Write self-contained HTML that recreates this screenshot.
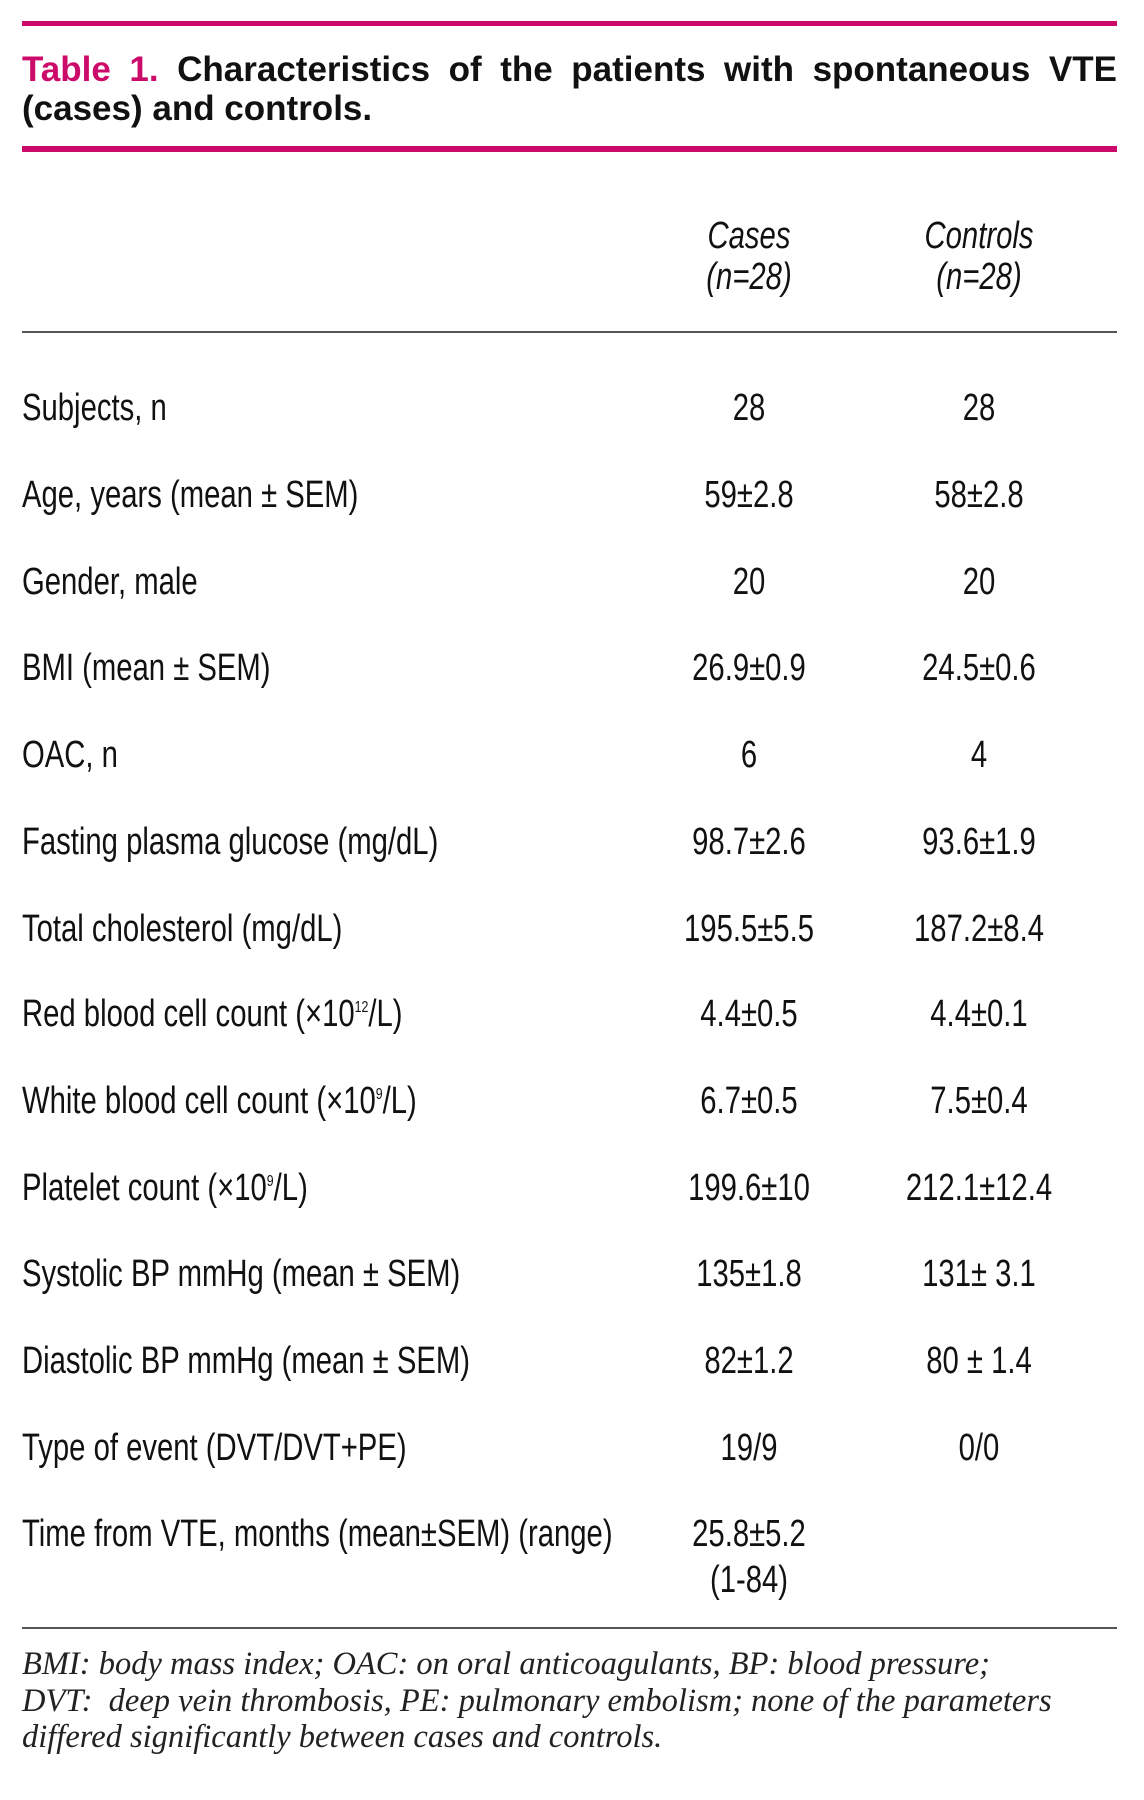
<!DOCTYPE html>
<html><head><meta charset="utf-8"><style>
html,body{margin:0;padding:0;background:#fff;}
body{width:1144px;height:1800px;position:relative;overflow:hidden;font-family:"Liberation Sans",sans-serif;color:#111;}
.bar{position:absolute;left:22px;width:1095px;background:#cc0a6a;}
.rule{position:absolute;left:22px;width:1095px;height:2px;background:#555;}
.t{position:absolute;font-size:38px;line-height:40px;white-space:nowrap;transform:scaleX(0.77);}
.l{left:22px;transform-origin:0 50%;}
.c{width:400px;text-align:center;transform-origin:50% 50%;}
.c1{left:549px;}
.c2{left:779px;}
.i{font-style:italic;}
sup{font-size:16px;vertical-align:14px;line-height:0;}
.title{position:absolute;left:22px;width:1095px;font-weight:bold;font-size:35px;line-height:39px;}
.title .line1{text-align:justify;text-align-last:justify;white-space:nowrap;}
.pk{color:#cc0a6a;}
.fn{position:absolute;left:22px;font-family:"Liberation Serif",serif;font-style:italic;font-size:32.5px;line-height:36px;white-space:nowrap;color:#222;}
</style></head><body>
<div class="bar" style="top:21px;height:5px"></div>
<div class="title" style="top:50px">
<div class="line1"><span class="pk">Table 1.</span> Characteristics of the patients with spontaneous VTE</div>
<div>(cases) and controls.</div>
</div>
<div class="bar" style="top:146px;height:6px"></div>

<div class="t c c1 i" style="top:216px">Cases</div>
<div class="t c c2 i" style="top:216px">Controls</div>
<div class="t c c1 i" style="top:257px">(n=28)</div>
<div class="t c c2 i" style="top:257px">(n=28)</div>
<div class="rule" style="top:331px"></div>

<div class="t l" style="top:388px">Subjects, n</div><div class="t c c1" style="top:388px">28</div><div class="t c c2" style="top:388px">28</div>
<div class="t l" style="top:475px">Age, years (mean ± SEM)</div><div class="t c c1" style="top:475px">59±2.8</div><div class="t c c2" style="top:475px">58±2.8</div>
<div class="t l" style="top:562px">Gender, male</div><div class="t c c1" style="top:562px">20</div><div class="t c c2" style="top:562px">20</div>
<div class="t l" style="top:648px">BMI (mean ± SEM)</div><div class="t c c1" style="top:648px">26.9±0.9</div><div class="t c c2" style="top:648px">24.5±0.6</div>
<div class="t l" style="top:735px">OAC, n</div><div class="t c c1" style="top:735px">6</div><div class="t c c2" style="top:735px">4</div>
<div class="t l" style="top:822px">Fasting plasma glucose (mg/dL)</div><div class="t c c1" style="top:822px">98.7±2.6</div><div class="t c c2" style="top:822px">93.6±1.9</div>
<div class="t l" style="top:909px">Total cholesterol (mg/dL)</div><div class="t c c1" style="top:909px">195.5±5.5</div><div class="t c c2" style="top:909px">187.2±8.4</div>
<div class="t l" style="top:994px">Red blood cell count (×10<sup>12</sup>/L)</div><div class="t c c1" style="top:994px">4.4±0.5</div><div class="t c c2" style="top:994px">4.4±0.1</div>
<div class="t l" style="top:1081px">White blood cell count (×10<sup>9</sup>/L)</div><div class="t c c1" style="top:1081px">6.7±0.5</div><div class="t c c2" style="top:1081px">7.5±0.4</div>
<div class="t l" style="top:1168px">Platelet count (×10<sup>9</sup>/L)</div><div class="t c c1" style="top:1168px">199.6±10</div><div class="t c c2" style="top:1168px">212.1±12.4</div>
<div class="t l" style="top:1254px">Systolic BP mmHg (mean ± SEM)</div><div class="t c c1" style="top:1254px">135±1.8</div><div class="t c c2" style="top:1254px">131± 3.1</div>
<div class="t l" style="top:1341px">Diastolic BP mmHg (mean ± SEM)</div><div class="t c c1" style="top:1341px">82±1.2</div><div class="t c c2" style="top:1341px">80 ± 1.4</div>
<div class="t l" style="top:1428px">Type of event (DVT/DVT+PE)</div><div class="t c c1" style="top:1428px">19/9</div><div class="t c c2" style="top:1428px">0/0</div>
<div class="t l" style="top:1514px">Time from VTE, months (mean±SEM) (range)</div><div class="t c c1" style="top:1514px">25.8±5.2</div>
<div class="t c c1" style="top:1560px">(1-84)</div>

<div class="rule" style="top:1627px"></div>
<div class="fn" style="top:1646px">BMI: body mass index; OAC: on oral anticoagulants, BP: blood pressure;</div>
<div class="fn" style="top:1683px">DVT:&nbsp; deep vein thrombosis, PE: pulmonary embolism; none of the parameters</div>
<div class="fn" style="top:1719px">differed significantly between cases and controls.</div>
</body></html>
